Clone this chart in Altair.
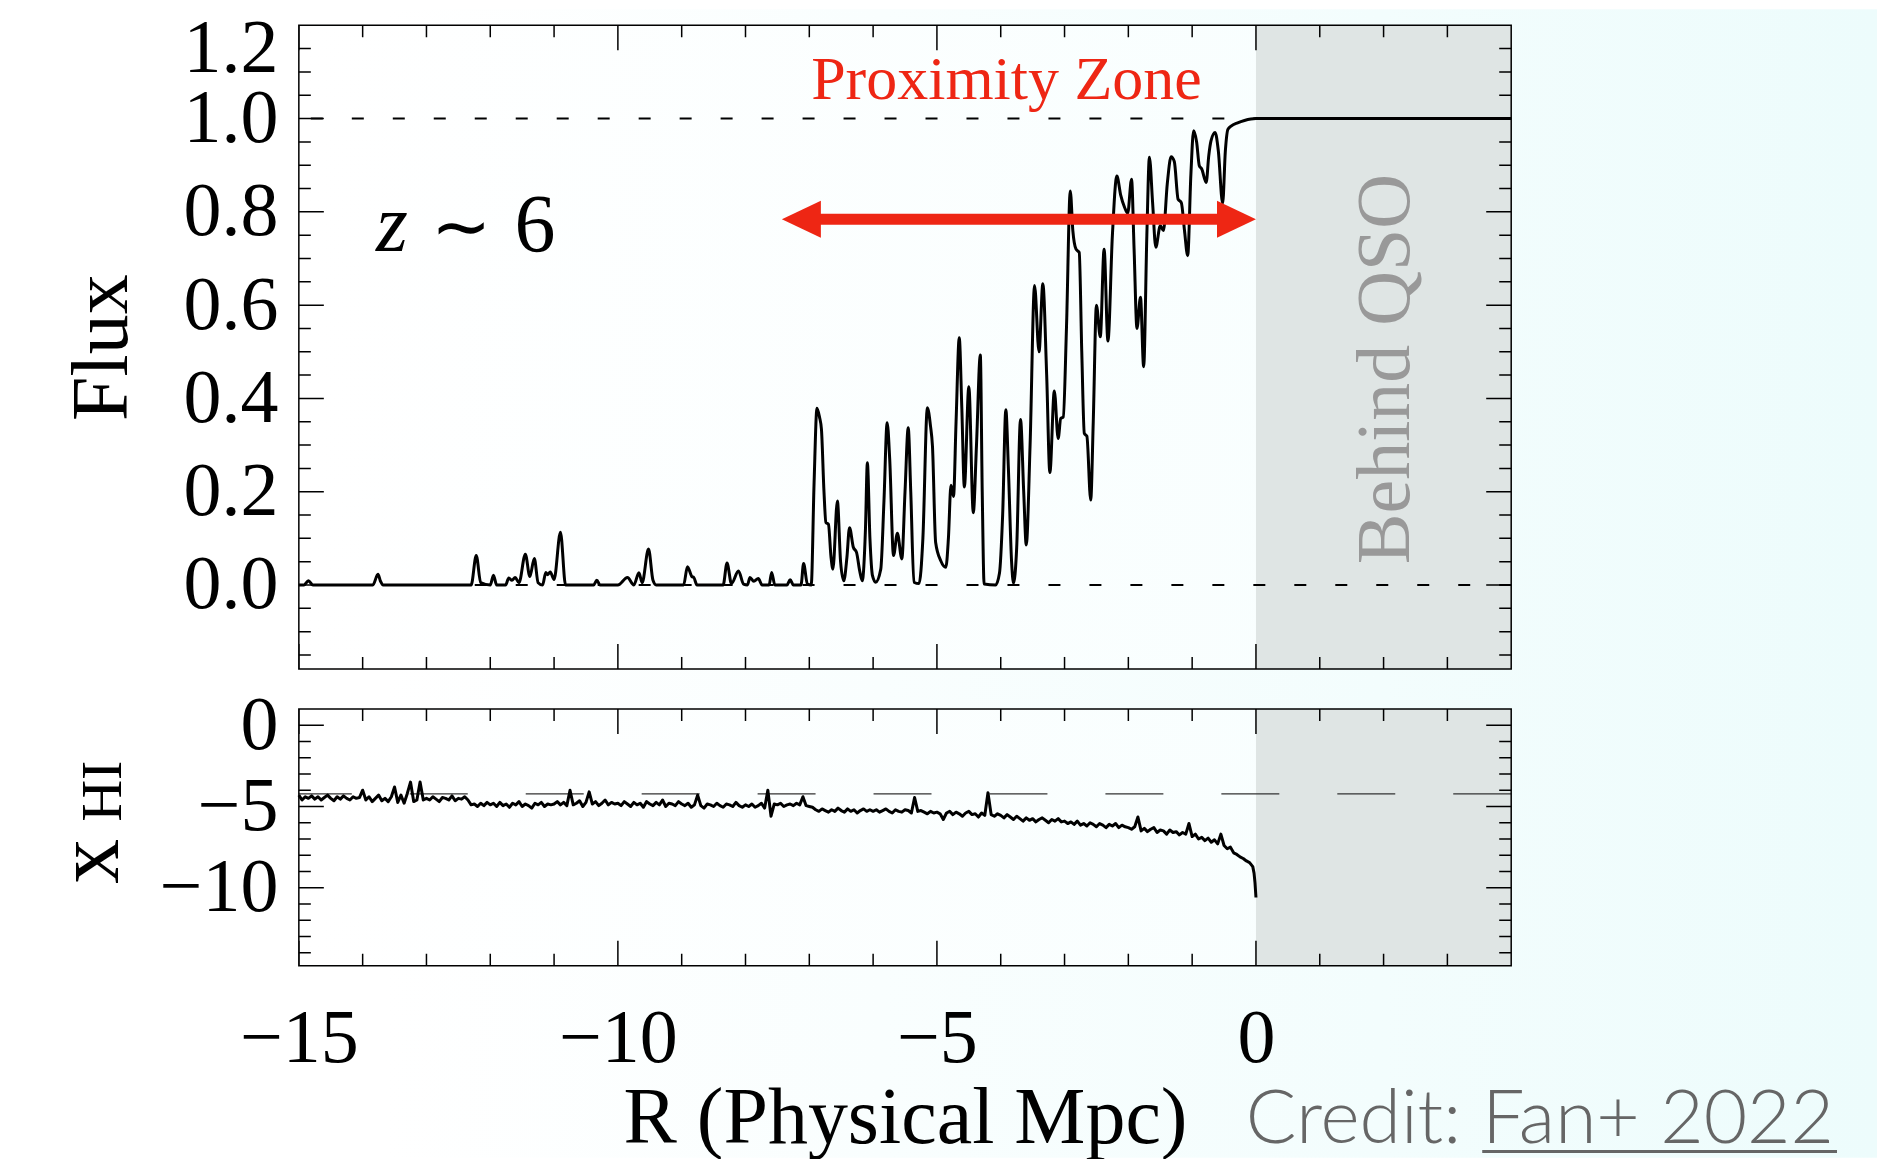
import altair as alt
import numpy as np
import pandas as pd

# ---------------- data ----------------
# Top panel: transmitted flux vs R (physical Mpc)
flux_r = [
    -15.0, -14.92, -14.85, -14.78, -13.84, -13.76, -13.72, -13.68, -12.3, -12.22,
    -12.15, -12.0, -11.95, -11.9, -11.76, -11.71, -11.66, -11.61, -11.55, -11.45,
    -11.38, -11.31, -11.25, -11.18, -11.13, -11.1, -11.06, -11.0, -10.9, -10.82,
    -10.38, -10.33, -10.28, -10.0, -9.85, -9.75, -9.67, -9.62, -9.52, -9.45,
    -9.4, -8.97, -8.91, -8.84, -8.81, -8.76, -8.35, -8.29, -8.22, -8.11,
    -8.03, -7.97, -7.93, -7.87, -7.80, -7.74, -7.63, -7.59, -7.54, -7.35,
    -7.30, -7.25, -7.13, -7.09, -7.03, -6.97, -6.925, -6.88, -6.84, -6.81,
    -6.77, -6.74, -6.70, -6.66, -6.63, -6.56, -6.51, -6.46, -6.41, -6.37,
    -6.31, -6.26, -6.21, -6.17, -6.12, -6.09, -6.05, -6.01, -5.96, -5.88,
    -5.83, -5.78, -5.74, -5.68, -5.62, -5.55, -5.50, -5.45, -5.41, -5.36,
    -5.28, -5.22, -5.15, -5.10, -5.07, -5.02, -4.94, -4.86, -4.82, -4.78,
    -4.74, -4.70, -4.65, -4.61, -4.57, -4.50, -4.43, -4.38, -4.32, -4.29,
    -4.26, -4.08, -4.02, -3.97, -3.92, -3.88, -3.83, -3.80, -3.75, -3.69,
    -3.64, -3.60, -3.54, -3.47, -3.40, -3.34, -3.28, -3.23, -3.16, -3.10,
    -3.06, -3.02, -2.97, -2.91, -2.87, -2.82, -2.77, -2.73, -2.69, -2.65,
    -2.59, -2.55, -2.50, -2.44, -2.38, -2.32, -2.25, -2.18, -2.12, -2.06,
    -2.01, -1.95, -1.91, -1.865, -1.81, -1.76, -1.71, -1.67, -1.62, -1.57,
    -1.50, -1.45, -1.39, -1.33, -1.28, -1.22, -1.17, -1.12, -1.07, -1.02,
    -0.977, -0.93, -0.888, -0.85, -0.78, -0.74, -0.705, -0.64, -0.59, -0.522,
    -0.48, -0.44, -0.39, -0.287, -0.18, -0.08, 0.0, 4.0,
]
flux_f = [
    0.0, 0.0, 0.009, 0.0, 0.0, 0.023, 0.008, 0.0, 0.0, 0.063,
    0.005, 0.0, 0.021, 0.0, 0.0, 0.015, 0.01, 0.016, 0.005, 0.066,
    0.018, 0.057, 0.005, 0.0, 0.027, 0.022, 0.028, 0.012, 0.113, 0.0,
    0.0, 0.01, 0.0, 0.0, 0.016, 0.0, 0.026, 0.005, 0.077, 0.01,
    0.0, 0.0, 0.039, 0.018, 0.016, 0.0, 0.0, 0.047, 0.003, 0.030,
    0.002, 0.0, 0.016, 0.008, 0.014, 0.0, 0.0, 0.027, 0.0, 0.0,
    0.011, 0.0, 0.0, 0.046, 0.002, 0.0, 0.22, 0.379, 0.36, 0.334,
    0.2, 0.134, 0.13, 0.06, 0.034, 0.180, 0.05, 0.009, 0.06, 0.123,
    0.081, 0.07, 0.03, 0.009, 0.12, 0.262, 0.1, 0.02, 0.006, 0.034,
    0.18, 0.348, 0.27, 0.063, 0.111, 0.056, 0.2, 0.337, 0.2, 0.006,
    0.003, 0.1, 0.380, 0.34, 0.298, 0.091, 0.052, 0.038, 0.1, 0.214,
    0.19, 0.35, 0.530, 0.38, 0.21, 0.425, 0.155, 0.3, 0.493, 0.2,
    0.002, 0.0, 0.025, 0.15, 0.376, 0.25, 0.05, 0.004, 0.08, 0.355,
    0.2, 0.086, 0.3, 0.642, 0.500, 0.646, 0.45, 0.241, 0.416, 0.314,
    0.357, 0.36, 0.55, 0.845, 0.76, 0.72, 0.713, 0.5, 0.325, 0.319,
    0.182, 0.35, 0.60, 0.532, 0.72, 0.523, 0.75, 0.877, 0.836, 0.81,
    0.797, 0.870, 0.72, 0.55, 0.617, 0.468, 0.75, 0.917, 0.82, 0.724,
    0.770, 0.760, 0.86, 0.918, 0.908, 0.827, 0.82, 0.76, 0.706, 0.88,
    0.974, 0.95, 0.899, 0.892, 0.863, 0.92, 0.952, 0.970, 0.931, 0.818,
    0.93, 0.977, 0.984, 0.991, 0.996, 0.999, 1.0, 1.0,
]

# Bottom panel: x_HI, sampled every 0.05 Mpc starting at R = -15
xhi_start = -15.0
xhi_step = 0.05
xhi_v = [
    -4.3, -4.6, -4.4, -4.5, -4.35, -4.55, -4.4, -4.6, -4.45, -4.3, -4.5, -4.65, -4.4, -4.55, -4.35, -4.5, -4.6, -4.4, -4.5, -4.45,
    -4.0, -4.6, -4.4, -4.7, -4.5, -4.3, -4.65, -4.5, -4.7, -4.4, -3.8, -4.75, -4.3, -4.8, -4.2, -3.5, -4.7, -4.6, -3.5, -4.6,
    -4.5, -4.6, -4.4, -4.55, -4.7, -4.45, -4.5, -4.6, -4.35, -4.65, -4.5, -4.55, -4.4, -4.6, -4.9, -4.85, -5.0, -4.8, -4.95, -4.75,
    -4.9, -4.8, -5.0, -4.75, -4.95, -4.85, -5.05, -4.8, -4.9, -4.7, -5.0, -4.85, -4.95, -5.1, -4.8, -4.9, -4.75, -5.0, -4.85, -4.9,
    -4.85, -4.7, -4.9, -4.75, -4.95, -4.0, -4.9, -4.8, -4.65, -5.0, -4.75, -4.1, -4.85, -4.7, -4.95, -4.8, -4.6, -4.9, -4.75, -4.85,
    -4.8, -4.95, -4.7, -4.85, -5.0, -4.75, -4.9, -4.8, -5.05, -4.7, -4.85, -4.95, -4.75, -4.9, -4.6, -5.0, -4.8, -4.85, -4.95, -4.7,
    -4.85, -4.95, -4.8, -5.05, -4.9, -4.3, -4.95, -5.1, -4.85, -4.9, -5.0, -4.8, -4.95, -5.05, -4.85, -4.9, -5.0, -4.75, -4.95, -5.05,
    -4.9, -5.0, -4.85, -5.05, -4.95, -4.8, -5.1, -4.0, -5.6, -4.85, -4.9, -4.8, -5.0, -4.9, -4.85, -4.95, -4.8, -4.9, -4.4, -4.95,
    -5.0, -5.05, -5.2, -5.3, -5.15, -5.25, -5.35, -5.2, -5.3, -5.1, -5.25, -5.35, -5.15, -5.3, -5.2, -5.4, -5.25, -5.15, -5.3, -5.2,
    -5.3, -5.2, -5.35, -5.25, -5.15, -5.3, -5.4, -5.2, -5.3, -5.35, -5.2, -5.25, -5.4, -4.45, -5.3, -5.25, -5.35, -5.45, -5.3, -5.4,
    -5.35, -5.45, -5.8, -5.4, -5.3, -5.5, -5.35, -5.45, -5.6, -5.4, -5.3, -5.5, -5.45, -5.65, -5.4, -5.55, -4.15, -5.5, -5.6, -5.45,
    -5.55, -5.7, -5.5, -5.65, -5.8, -5.6, -5.75, -5.9, -5.7, -5.85, -5.75, -5.95, -5.8, -5.7, -5.85, -6.0, -5.8, -5.9, -5.75, -5.95,
    -5.9, -6.05, -5.95, -6.1, -5.9, -6.15, -6.05, -6.2, -6.0, -6.1, -6.25, -6.05, -6.15, -6.3, -6.1, -6.2, -6.05, -6.3, -6.15, -6.25,
    -6.3, -6.4, -6.25, -5.65, -6.5, -6.35, -6.55, -6.4, -6.3, -6.6, -6.45, -6.5, -6.7, -6.45, -6.6, -6.55, -6.75, -6.6, -6.7, -6.05,
    -6.85, -6.7, -7.0, -6.9, -7.1, -6.95, -7.2, -7.05, -7.3, -6.7, -7.4, -7.6, -7.5, -7.85, -7.95, -8.1, -8.2, -8.35, -8.45, -8.7,
]
xhi_tail_r = [-0.03, -0.015, 0.0]
xhi_tail_v = [-9.1, -9.7, -10.6]

flux_ref_levels = [0.0, 1.0]      # short-dashed reference lines
xhi_ref_level = -4.23             # long-dashed reference line
arrow_r = [-7.43, 0.0]            # extent of the proximity-zone arrow
arrow_flux = 0.784

x_major = [-15, -10, -5, 0]
y1_major = [0.0, 0.2, 0.4, 0.6, 0.8, 1.0, 1.2]
y2_major = [0, -5, -10]

# ---------------- layout / style ----------------
FONT = "Liberation Serif"
RED = "#ee2614"
ZONE = "#dfe5e4"
W, H1, H2, GAP = 1213, 644, 257, 40
XDOM = [-15, 4]
Y1DOM = [-0.18, 1.2]
Y2DOM = [-14.8, 1.0]
PLOT_LEFT, PLOT_TOP, MARGIN = 298, 24, 8
PAGE_W, PAGE_H = 1885, 1165
px_x = W / (XDOM[1] - XDOM[0])
px_y1 = H1 / (Y1DOM[1] - Y1DOM[0])

xs = alt.Scale(domain=XDOM, nice=False, zero=False)
y1s = alt.Scale(domain=Y1DOM, nice=False, zero=False)
y2s = alt.Scale(domain=Y2DOM, nice=False, zero=False)

LBL = dict(labelFont=FONT, labelFontSize=76, labelColor="black", ticks=False, tickSize=0,
           domain=False, grid=False, zindex=1, labelOverlap=False)
y1_axis = alt.Axis(values=y1_major, format=".1f", labelPadding=21, labelFlush=True,
                   labelFlushOffset=14,
                   title="Flux", titleFont=FONT, titleFontSize=80, titleFontWeight="normal",
                   titleColor="black", titleAngle=270, titleBaseline="alphabetic",
                   titleAlign="center", titleX=-172, titleY=H1 / 2, **LBL)
y2_axis = alt.Axis(values=y2_major, format="d", labelPadding=21, labelFlush=False, title="", **LBL)
x2_axis = alt.Axis(values=x_major, format="d", labelPadding=36, labelFlush=False,
                   title="R (Physical Mpc)", titleFont=FONT, titleFontSize=80,
                   titleFontWeight="normal", titleColor="black", titleBaseline="alphabetic",
                   titleAlign="center", titleX=W / 2, titleY=177, **LBL)


def X1(f="x"):
    return alt.X(f"{f}:Q", scale=xs, axis=None)


def Y1(f="y"):
    return alt.Y(f"{f}:Q", scale=y1s, axis=y1_axis)


def X2(f="x"):
    return alt.X(f"{f}:Q", scale=xs, axis=x2_axis)


def Y2(f="y"):
    return alt.Y(f"{f}:Q", scale=y2s, axis=y2_axis)


def rect_df(x0, x1, y0, y1):
    return pd.DataFrame({"x": [x0], "x2": [x1], "y": [y0], "y2": [y1]})


page_grad = alt.Gradient(gradient="linear", x1=0, x2=1, y1=0, y2=0,
                         stops=[alt.GradientStop(color="#ffffff", offset=0),
                                alt.GradientStop(color="#ffffff", offset=0.2),
                                alt.GradientStop(color="#edfcfc", offset=1)])
plot_grad = alt.Gradient(gradient="linear", x1=0, x2=1, y1=0, y2=0,
                         stops=[alt.GradientStop(color="#ffffff", offset=0),
                                alt.GradientStop(color="#f7fefe", offset=1)])


def ticks_layers(X, Y, ydom, ymajor, yminor):
    xminor = [v for v in range(XDOM[0] + 1, XDOM[1]) if v not in x_major]
    layers = []
    for vals, ln in ((x_major, 25), (xminor, 12)):
        d = pd.DataFrame({"x": vals * 2, "y": [ydom[0]] * len(vals) + [ydom[1]] * len(vals)})
        layers.append(alt.Chart(d).mark_tick(orient="vertical", clip=True, size=2 * ln,
                                             thickness=1.5, color="black", opacity=1)
                      .encode(x=X(), y=Y()))
    for vals, ln in ((ymajor, 25), (yminor, 12)):
        d = pd.DataFrame({"y": vals * 2, "x": [XDOM[0]] * len(vals) + [XDOM[1]] * len(vals)})
        layers.append(alt.Chart(d).mark_tick(orient="horizontal", clip=True, size=2 * ln,
                                             thickness=1.5, color="black", opacity=1)
                      .encode(x=X(), y=Y()))
    return layers


# ---------------- top panel ----------------
flux_df = pd.DataFrame({"x": flux_r, "y": flux_f})

bg_x0 = XDOM[0] - (PLOT_LEFT - MARGIN) / px_x
bg_x1 = XDOM[1] + (PAGE_W - 2 * MARGIN - (PLOT_LEFT - MARGIN) - W) / px_x
bg_y1 = Y1DOM[1] + (PLOT_TOP - MARGIN) / px_y1
bg_y0 = Y1DOM[1] - (PAGE_H - 2 * MARGIN - (PLOT_TOP - MARGIN)) / px_y1

page_bg = alt.Chart(rect_df(bg_x0, bg_x1, bg_y0, bg_y1)).mark_rect(color=page_grad).encode(
    x=X1(), x2="x2", y=Y1(), y2="y2")
top_bg = alt.Chart(rect_df(XDOM[0], XDOM[1], Y1DOM[0], Y1DOM[1])).mark_rect(color=plot_grad).encode(
    x=X1(), x2="x2", y=Y1(), y2="y2")
top_zone = alt.Chart(rect_df(0, XDOM[1], Y1DOM[0], Y1DOM[1])).mark_rect(color=ZONE).encode(
    x=X1(), x2="x2", y=Y1(), y2="y2")
top_ref = alt.Chart(pd.DataFrame({"y": flux_ref_levels})).mark_rule(
    color="black", strokeWidth=2, strokeDash=[12, 29]).encode(y=Y1())
flux_line = alt.Chart(flux_df).mark_line(color="black", strokeWidth=3, interpolate="monotone",
                                         strokeJoin="round").encode(x=X1(), y=Y1(), order="x:Q")

head = 39.0  # arrow head length in px
a_left = arrow_r[0] + head / 2 / px_x
a_right = arrow_r[1] - head / 2 / px_x
shaft = alt.Chart(pd.DataFrame({"x": [a_left], "x2": [a_right], "y": [arrow_flux]})).mark_rule(
    color=RED, strokeWidth=11, strokeCap="butt").encode(x=X1(), x2="x2", y=Y1())
head_l = alt.Chart(pd.DataFrame({"x": [a_left], "y": [arrow_flux]})).mark_point(
    shape="M -1 0 L 1 -0.95 L 1 0.95 Z", filled=True, size=head * head, color=RED, opacity=1).encode(
    x=X1(), y=Y1())
head_r = alt.Chart(pd.DataFrame({"x": [a_right], "y": [arrow_flux]})).mark_point(
    shape="M 1 0 L -1 -0.95 L -1 0.95 Z", filled=True, size=head * head, color=RED, opacity=1).encode(
    x=X1(), y=Y1())


def text_at(x, y, t, chart_x, chart_y, **kw):
    return alt.Chart(pd.DataFrame({"x": [x], "y": [y]})).mark_text(text=t, **kw).encode(
        x=chart_x(), y=chart_y())


prox = text_at(-3.91, 1.041, "Proximity Zone", X1, Y1, font=FONT, fontSize=62, color=RED,
               align="center", baseline="alphabetic")
z_txt = text_at(-13.79, 0.716, "z", X1, Y1, font=FONT, fontSize=82, fontStyle="italic",
                color="black", align="left", baseline="alphabetic")
tilde = text_at(-12.46, 0.716, "\u223c", X1, Y1, font=FONT, fontSize=72, color="black",
                align="center", baseline="alphabetic")
six = text_at(-11.30, 0.716, "6", X1, Y1, font=FONT, fontSize=82, color="black",
              align="center", baseline="alphabetic")
behind = text_at(2.40, 0.463, "Behind QSO", X1, Y1, font=FONT, fontSize=76, color="#999999",
                 align="center", baseline="alphabetic", angle=270)

y1_minor = [round(k * 0.05, 2) for k in range(-3, 24) if k % 4 != 0]
top_ticks = ticks_layers(X1, Y1, Y1DOM, y1_major, y1_minor)
top_frame = alt.Chart(rect_df(XDOM[0], XDOM[1], Y1DOM[0], Y1DOM[1])).mark_rect(
    filled=False, stroke="black", strokeWidth=1.5).encode(x=X1(), x2="x2", y=Y1(), y2="y2")

top = alt.layer(page_bg, top_bg, top_zone, top_ref, flux_line, shaft, head_l, head_r,
                prox, z_txt, tilde, six, behind, *top_ticks, top_frame).properties(width=W, height=H1)

# ---------------- bottom panel ----------------
xhi_r = list(np.round(xhi_start + xhi_step * np.arange(len(xhi_v)), 3)) + xhi_tail_r
xhi_df = pd.DataFrame({"x": xhi_r, "y": xhi_v + xhi_tail_v})

bot_bg = alt.Chart(rect_df(XDOM[0], XDOM[1], Y2DOM[0], Y2DOM[1])).mark_rect(color=plot_grad).encode(
    x=X2(), x2="x2", y=Y2(), y2="y2")
bot_zone = alt.Chart(rect_df(0, XDOM[1], Y2DOM[0], Y2DOM[1])).mark_rect(color=ZONE).encode(
    x=X2(), x2="x2", y=Y2(), y2="y2")
bot_ref = alt.Chart(pd.DataFrame({"y": [xhi_ref_level]})).mark_rule(
    color="#333333", strokeWidth=1.3, strokeDash=[58, 58]).encode(y=Y2())
xhi_line = alt.Chart(xhi_df).mark_line(color="black", strokeWidth=3, strokeJoin="round").encode(
    x=X2(), y=Y2(), order="x:Q")

xhi_x = text_at(-17.835, -9.756, "x", X2, Y2, font=FONT, fontSize=90, color="black",
                align="left", baseline="alphabetic", angle=270)
xhi_sub = text_at(-17.788, -5.945, "HI", X2, Y2, font=FONT, fontSize=58, color="black",
                  align="left", baseline="alphabetic", angle=270)
credit = text_at(3.217, -25.68, "Credit:", X2, Y2, font="Lato", fontSize=75, fontWeight=300,
                 color="#666666", align="right", baseline="alphabetic")
credit_ref = text_at(3.546, -25.68, "Fan+ 2022", X2, Y2, font="Lato", fontSize=75, fontWeight=300,
                     color="#666666", align="left", baseline="alphabetic")
underline = alt.Chart(pd.DataFrame({"x": [3.546], "x2": [9.106], "y": [-26.23]})).mark_rule(
    color="#666666", strokeWidth=3).encode(x=X2(), x2="x2", y=Y2())

y2_minor = [v for v in range(-14, 1) if v not in y2_major]
bot_ticks = ticks_layers(X2, Y2, Y2DOM, y2_major, y2_minor)
bot_frame = alt.Chart(rect_df(XDOM[0], XDOM[1], Y2DOM[0], Y2DOM[1])).mark_rect(
    filled=False, stroke="black", strokeWidth=1.5).encode(x=X2(), x2="x2", y=Y2(), y2="y2")

bottom = alt.layer(bot_bg, bot_zone, bot_ref, xhi_line, *bot_ticks, bot_frame,
                   xhi_x, xhi_sub, credit, credit_ref, underline).properties(width=W, height=H2)

chart = (alt.vconcat(top, bottom, spacing=GAP, bounds="flush")
         .resolve_scale(x="independent", y="independent")
         .properties(padding=0)
         .configure(font=FONT, background="white")
         .configure_view(strokeWidth=0))

chart.save("out.html", embed_options={"renderer": "svg", "actions": False})
